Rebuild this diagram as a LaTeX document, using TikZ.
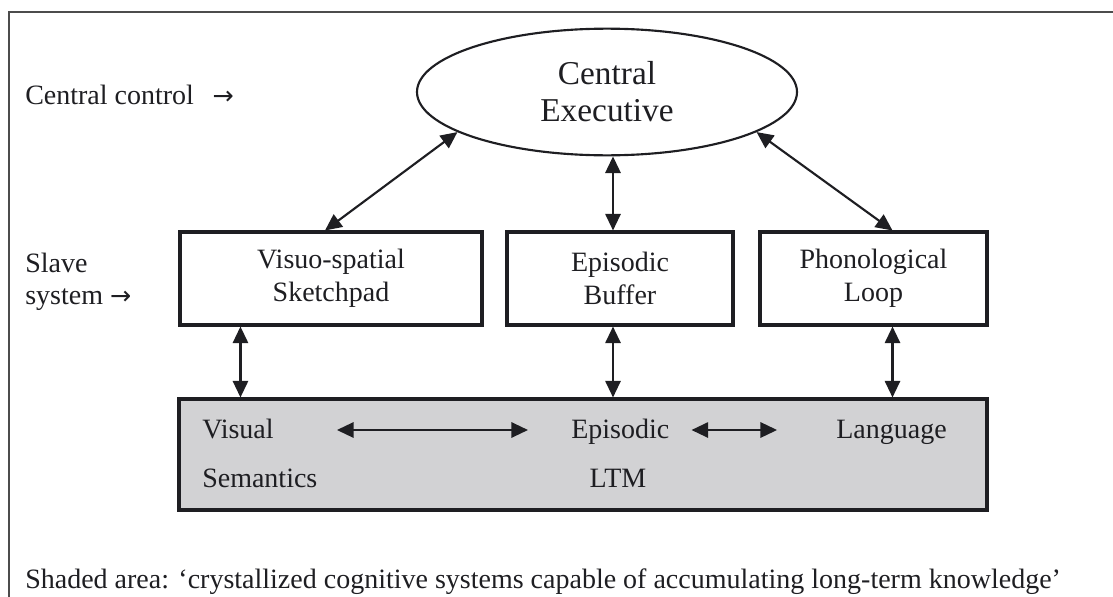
\documentclass[tikz,border=0pt]{standalone}
\usepackage{fontspec}
\setmainfont{Liberation Serif}
\newfontfamily\arrowfont{DejaVu Sans}
\usetikzlibrary{arrows.meta,shapes.geometric,calc}
\definecolor{ltmgray}{RGB}{210,210,212}
\definecolor{ink}{RGB}{30,30,34}
\begin{document}
\begin{tikzpicture}[x=0.75pt,y=-0.75pt,
  txt/.style={font=\fontsize{21}{25}\selectfont, text=ink},
  box/.style={draw=ink, line width=2.3pt, minimum height=69.75pt, inner sep=0pt, align=center, txt},
  conn/.style={line width=1.6pt, draw=ink, {Triangle[length=12.5pt,width=11.5pt]}-{Triangle[length=12.5pt,width=11.5pt]}},
]
\useasboundingbox (0,0) rectangle (1113,596);
\clip (0,0) rectangle (1113,596);
% outer frame
\draw[line width=1.5pt, draw=black!70] (9,630) -- (9,12) -- (1140,12);

% labels on the left
\node[txt, anchor=base west, inner sep=0pt] (cc) at (25,104) {Central control\hspace{14pt}{\arrowfont\fontsize{19}{25}\selectfont →}};
\node[txt, anchor=base west, inner sep=0pt] (sl1) at (25,272) {Slave};
\node[txt, anchor=base west, inner sep=0pt] (sl2) at (25,304) {system {\arrowfont\fontsize{19}{25}\selectfont →}};

% central executive
\node[ellipse, draw=ink, line width=1.6pt, minimum width=285pt, minimum height=95pt,
      inner sep=0pt, align=center, font=\fontsize{25}{27.75}\selectfont, text=ink] (CE) at (607,92) {Central\\Executive};

% slave systems
\node[box, minimum width=226.5pt] (VS) at (331,278.5) {Visuo-spatial\\Sketchpad};
\node[box, minimum width=169.5pt] (EB) at (620,278.5) {Episodic\\Buffer};
\node[box, minimum width=170.25pt] (PL) at (873.5,278.5) {Phonological\\Loop};

% shaded LTM area
\node[draw=ink, fill=ltmgray, line width=2.3pt, minimum width=606pt, minimum height=83.25pt, inner sep=0pt] (LTM) at (583,454.5) {};
\node[txt, anchor=base west, inner sep=0pt] (vis) at (202,438) {Visual};
\node[txt, anchor=base west, inner sep=0pt] (sem) at (202,487) {Semantics};
\node[txt, anchor=base west, inner sep=0pt] (epi) at (571,438) {Episodic};
\node[txt, anchor=base, inner sep=0pt] (ltm) at (618,487) {LTM};
\node[txt, anchor=base east, inner sep=0pt] (lang) at (947,438) {Language};

% bottom note
\node[txt, anchor=base west, inner sep=0pt] (note) at (25,588) {Shaded area: ‘crystallized cognitive systems capable of accumulating long-term knowledge’};

% connectors to central executive
\coordinate (vsTop) at ($(VS.north)+(-6,0)$);
\coordinate (ebTop) at ($(EB.north)+(-7,0)$);
\coordinate (plTop) at ($(PL.north)+(19,0)$);
\draw[conn] (vsTop) -- (CE.195);
\draw[conn] (ebTop) -- (ebTop |- CE.south);
\draw[conn] (plTop) -- (CE.-15);

% connectors to LTM
\coordinate (vsBot) at ($(VS.south west)+(62,0)$);
\coordinate (ebBot) at ($(EB.south)+(-7,0)$);
\coordinate (plBot) at ($(PL.south)+(19,0)$);
\draw[conn] (vsBot) -- (vsBot |- LTM.north);
\draw[conn] (ebBot) -- (ebBot |- LTM.north);
\draw[conn] (plBot) -- (plBot |- LTM.north);

% links inside LTM
\draw[conn] ($(vis.base east)+(63,-8)$) -- ($(epi.base west)+(-43,-8)$);
\draw[conn] ($(epi.base east)+(22,-8)$) -- ($(lang.base west)+(-59,-8)$);
\end{tikzpicture}
\end{document}
